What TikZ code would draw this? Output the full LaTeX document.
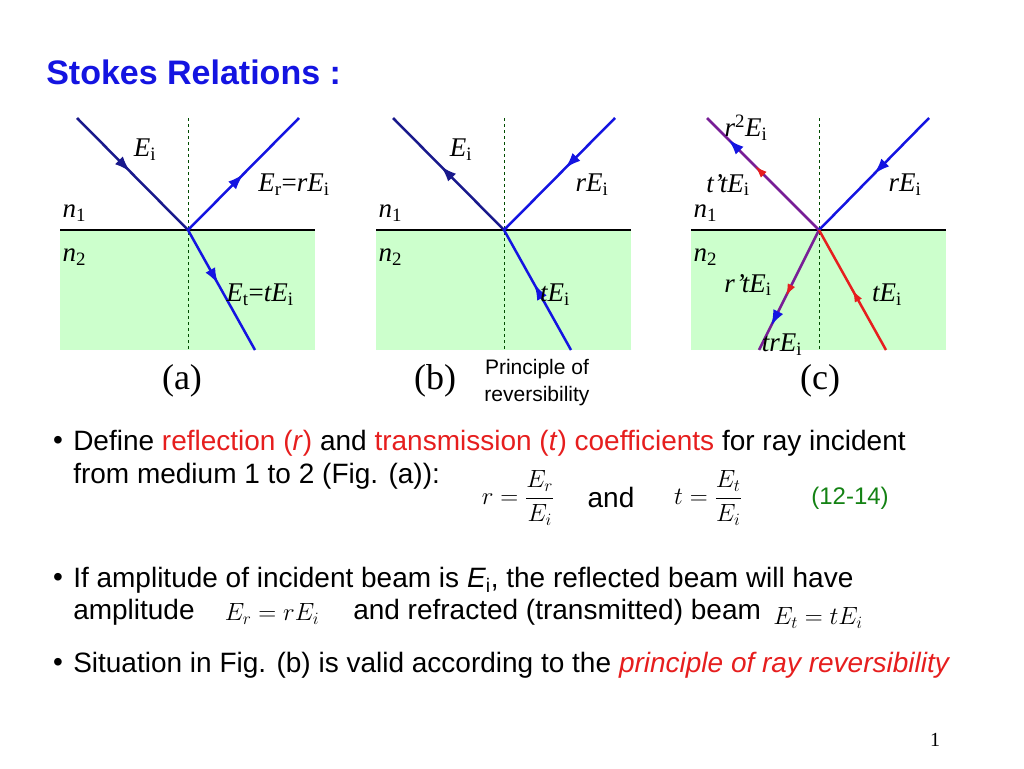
\documentclass[tikz,border=0pt]{standalone}
\usepackage{amsmath}
\usepackage{fontspec}
\setmainfont{Liberation Serif}
\setsansfont{Liberation Sans}
\usetikzlibrary{arrows.meta,decorations.markings}
\definecolor{navy}{RGB}{25,25,140}
\definecolor{ray}{RGB}{20,20,225}
\definecolor{medium}{RGB}{204,255,204}
\definecolor{hot}{RGB}{230,30,30}
\definecolor{violet}{RGB}{120,30,150}
\definecolor{eqgreen}{RGB}{20,130,20}
\tikzset{
  tip/.style 2 args={postaction={decorate,decoration={markings,
      mark=at position #1 with {\arrow[#2]{Latex[length=16pt,width=11pt]}}}}},
  lab/.style={font=\fontsize{27}{30}\selectfont},
  txt/.style={font=\sffamily\fontsize{28}{32}\selectfont,anchor=west,inner sep=0pt},
}
\newcommand{\Ei}{\textit{E}\textsubscript{i}}
\begin{document}
\begin{tikzpicture}[x=1pt,y=-1pt,line width=2.5pt]
  \useasboundingbox (0,0) rectangle (1024,768);

  \node[font=\sffamily\bfseries\fontsize{34}{38}\selectfont,text=ray,anchor=west,inner sep=0pt]
    (title) at (45,72) {Stokes Relations :};

  % the three panels
  \foreach \dx in {0,316,631}{
    \begin{scope}[xshift=\dx]
      \fill[medium] (60,230) rectangle (315,350);
      \draw[black] (60,230) -- (315,230);
      \draw[black!70!green,line width=0.9pt,dashed] (188,118) -- (188,350);
      \node[lab,anchor=west] (n1\dx) at (58,213) {\textit{n}\textsubscript{1}};
      \node[lab,anchor=west] (n2\dx) at (58,257) {\textit{n}\textsubscript{2}};
    \end{scope}}
  \node[font=\fontsize{36}{40}\selectfont] (capa) at (182,381) {(a)};
  \node[font=\fontsize{36}{40}\selectfont] (capb) at (435,381) {(b)};
  \node[font=\fontsize{36}{40}\selectfont] (capc) at (820,381) {(c)};

  % (a)
  \coordinate (Oa) at (188,230);
  \draw[navy,tip={0.48}{}] (77,118) -- (Oa);
  \draw[ray,tip={0.5}{}] (Oa) -- (299,118);
  \draw[ray,tip={0.45}{}] (Oa) -- (255,350);
  \node[lab] (ia) at (145,150) {\Ei};
  \node[lab] (ra) at (294,185) {\textit{E}\textsubscript{r}=\textit{rE}\textsubscript{i}};
  \node[lab] (ta) at (260,295) {\textit{E}\textsubscript{t}=\textit{tE}\textsubscript{i}};

  % (b)
  \coordinate (Ob) at (504,230);
  \draw[navy,tip={0.57}{}] (Ob) -- (393,118);
  \draw[ray,tip={0.45}{}] (615,118) -- (Ob);
  \draw[ray,tip={0.55}{}] (571,350) -- (Ob);
  \node[lab] (ib) at (461,150) {\Ei};
  \node[lab] (rb) at (592,185) {\textit{rE}\textsubscript{i}};
  \node[lab] (tb) at (555,295) {\textit{tE}\textsubscript{i}};
  \node[font=\sffamily\fontsize{21}{27}\selectfont,align=center] (prin) at (537,383)
    {Principle of\\reversibility};

  % (c)
  \coordinate (Oc) at (819,230);
  \draw[violet,tip={0.81}{ray},tip={0.57}{hot,scale=0.75}] (Oc) -- (707,118);
  \draw[ray,tip={0.5}{}] (929,118) -- (Oc);
  \draw[violet,tip={0.55}{hot,scale=0.75},tip={0.8}{ray}] (Oc) -- (759,350);
  \draw[hot,tip={0.5}{hot,scale=0.75}] (886,350) -- (Oc);
  \node[lab] (r2c) at (746,128) {\textit{r}\textsuperscript{2}\Ei};
  \node[lab] (ttc) at (728,185) {\textit{t'tE}\textsubscript{i}};
  \node[lab] (rc) at (905,185) {\textit{rE}\textsubscript{i}};
  \node[lab] (rtc) at (748,285) {\textit{r'tE}\textsubscript{i}};
  \node[lab] (tc) at (887,295) {\textit{tE}\textsubscript{i}};
  \node[lab] (trc) at (782,345) {\textit{trE}\textsubscript{i}};

  % text
  \foreach \y in {443,580,665}
    \node[txt,anchor=center] at (58,\y) {\textbullet};
  \node[txt] (l1) at (72,443) {Define \textcolor{hot}{reflection (\textit{r})} and
    \textcolor{hot}{transmission (\textit{t}) coefficients} for ray incident};
  \node[txt] (l2) at (72,476) {from medium 1 to 2 (Fig. (a)):};
  \node[font=\fontsize{24}{28}\selectfont] (eqr) at (518,498) {$r=\dfrac{E_r}{E_i}$};
  \node[txt,anchor=center] (and) at (611,497) {and};
  \node[font=\fontsize{24}{28}\selectfont] (eqt) at (708,498) {$t=\dfrac{E_t}{E_i}$};
  \node[font=\sffamily\fontsize{24}{28}\selectfont,text=eqgreen] (num) at (850,498) {(12-14)};
  \node[txt] (l3) at (72,580) {If amplitude of incident beam is \textit{E}\textsubscript{i}, the reflected beam will have};
  \node[txt] (l4) at (72,612) {amplitude};
  \node[font=\fontsize{26}{30}\selectfont] (eqEr) at (272,614) {$E_r=rE_i$};
  \node[txt] (l5) at (352,612) {and refracted (transmitted) beam};
  \node[font=\fontsize{26}{30}\selectfont] (eqEt) at (818,618) {$E_t=tE_i$};
  \node[txt] (l6) at (72,665) {Situation in Fig. (b) is valid according to the
    \textcolor{hot}{\textit{principle of ray reversibility}}};
  \node[font=\fontsize{20}{24}\selectfont] (page) at (935,740) {1};
\end{tikzpicture}
\end{document}
